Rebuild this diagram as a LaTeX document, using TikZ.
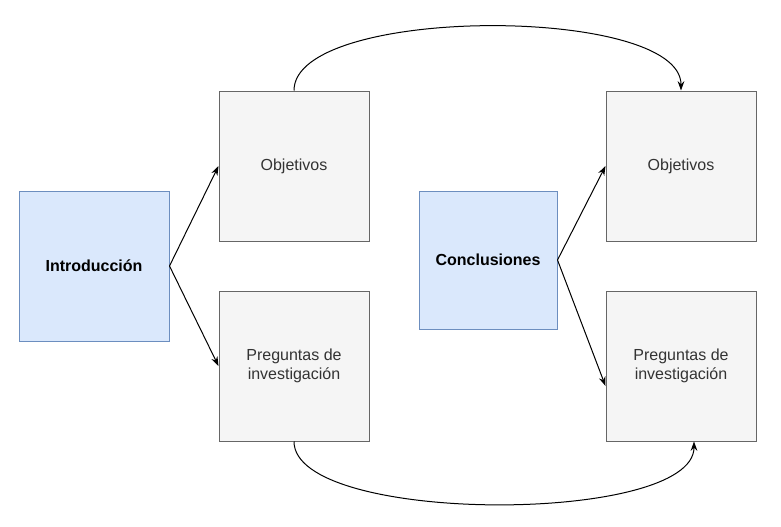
\documentclass[tikz,border=0pt]{standalone}
\usepackage{fontspec}
\setmainfont{Liberation Sans}
\usetikzlibrary{arrows.meta}
\begin{document}
\begin{tikzpicture}[x=0.75pt,y=-0.75pt,
  blue/.style={draw={rgb,255:red,108;green,142;blue,191}, fill={rgb,255:red,218;green,232;blue,252}, line width=0.75pt, font=\bfseries\fontsize{12}{14}\selectfont, align=center, inner sep=0},
  grey/.style={draw={rgb,255:red,102;green,102;blue,102}, fill={rgb,255:red,245;green,245;blue,245}, line width=0.75pt, text={rgb,255:red,51;green,51;blue,51}, font=\fontsize{12}{14}\selectfont, align=center, inner sep=0},
  arr/.style={-{Stealth[length=7pt,width=5pt]}, line width=0.75pt}]
\useasboundingbox (0,0) rectangle (781,526);
\node[blue, minimum width=112.5pt, minimum height=112.5pt] (intro) at (94,266) {Introducción};
\node[grey, minimum width=112.5pt, minimum height=112.5pt] (obj1) at (294,166) {Objetivos};
\node[grey, minimum width=112.5pt, minimum height=112.5pt] (pre1) at (294,366) {Preguntas de\\investigación};
\node[blue, minimum width=103.5pt, minimum height=103.5pt] (conc) at (488,260) {Conclusiones};
\node[grey, minimum width=112.5pt, minimum height=112.5pt] (obj2) at (681,166) {Objetivos};
\node[grey, minimum width=112.5pt, minimum height=112.5pt] (pre2) at (681,366) {Preguntas de\\investigación};
\draw[arr] (intro.east) -- (obj1.west);
\draw[arr] (intro.east) -- (pre1.west);
\draw[arr] (conc.east) -- (obj2.west);
\draw[arr] (conc.east) -- ([yshift=-15pt]pre2.west);
\draw[arr] (obj1.north) .. controls (294,5) and (681,5) .. (obj2.north);
\draw[arr] (pre1.south) .. controls (294,525) and (694,525) .. ([xshift=9.75pt]pre2.south);
\end{tikzpicture}
\end{document}
